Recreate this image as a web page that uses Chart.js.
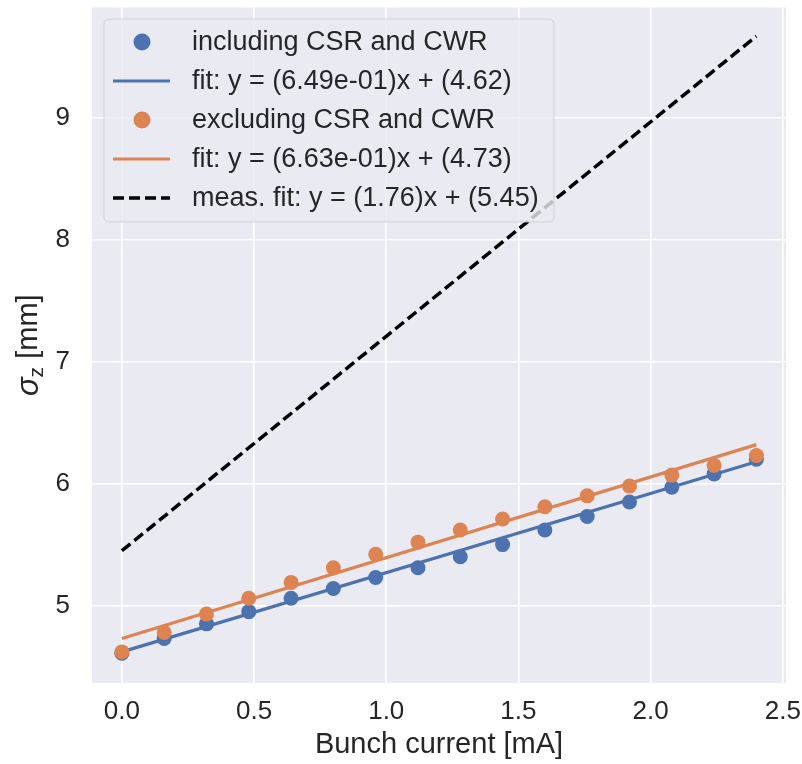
<!DOCTYPE html>
<html>
<head>
<meta charset="utf-8">
<script src="https://cdn.jsdelivr.net/npm/chart.js@4.4.1/dist/chart.umd.min.js"></script>
<style>
    body { margin: 0; background: #ffffff; }
    canvas { display: block; }
</style>
</head>
<body>
<canvas id="sigma-chart" width="802" height="764"></canvas>
<script>
// bunch current [mA]
const currents = [0, 0.16, 0.32, 0.48, 0.64, 0.8, 0.96, 1.12, 1.28, 1.44, 1.6, 1.76, 1.92, 2.08, 2.24, 2.4];
// sigma_z [mm]
const sigmaIncl = [4.61, 4.73, 4.85, 4.95, 5.06, 5.14, 5.23, 5.31, 5.40, 5.50, 5.62, 5.73, 5.85, 5.97, 6.08, 6.20];
const sigmaExcl = [4.62, 4.78, 4.93, 5.06, 5.19, 5.31, 5.42, 5.52, 5.62, 5.71, 5.81, 5.90, 5.98, 6.07, 6.15, 6.23];

// fit lines (end points)
const fitX = [0, 2.4];
const fitIncl = [4.62, 6.18];
const fitExcl = [4.73, 6.32];
const fitMeas = [5.45, 9.67];

const xTicks = [0, 0.5, 1.0, 1.5, 2.0, 2.5];
const yTicks = [5, 6, 7, 8, 9];

const BLUE = '#4c72b0';
const ORANGE = '#dd8452';
const TEXT = '#262626';
const FONT = "'Liberation Sans', Arial, sans-serif";

const toPoints = (xs, ys) => xs.map((x, i) => ({ x: x, y: ys[i] }));

// pas de marge auto autour des axes
const noPad = (scale) => {
    scale.paddingTop = 0;
    scale.paddingBottom = 0;
    scale.paddingLeft = 0;
    scale.paddingRight = 0;
};

// fond gris type seaborn
const bgPlugin = {
    id: 'bg',
    beforeDraw(chart) {
        const { ctx, chartArea } = chart;
        ctx.save();
        ctx.fillStyle = '#eaeaf2';
        ctx.fillRect(chartArea.left, chartArea.top, chartArea.right - chartArea.left, chartArea.bottom - chartArea.top);
        ctx.restore();
    }
};

// titre axe y avec indice
const yTitlePlugin = {
    id: 'yTitle',
    afterDraw(chart) {
        const ctx = chart.ctx;
        const cy = (chart.chartArea.top + chart.chartArea.bottom) / 2;
        ctx.save();
        ctx.translate(29, cy);
        ctx.rotate(-Math.PI / 2);
        ctx.fillStyle = TEXT;
        ctx.textBaseline = 'middle';
        const f1 = `italic 31px ${FONT}`;
        const f2 = `21px ${FONT}`;
        const f3 = `29px ${FONT}`;
        ctx.font = f1; const w1 = ctx.measureText('σ').width;
        ctx.font = f2; const w2 = ctx.measureText('z').width;
        ctx.font = f3; const w3 = ctx.measureText(' [mm]').width;
        let x = -(w1 + w2 + w3) / 2;
        ctx.font = f1; ctx.fillText('σ', x, 0); x += w1;
        ctx.font = f2; ctx.fillText('z', x, 8); x += w2;
        ctx.font = f3; ctx.fillText(' [mm]', x, 0);
        ctx.restore();
    }
};

// légende dans le cadre, en haut à gauche
const legendPlugin = {
    id: 'boxLegend',
    afterDraw(chart) {
        const ctx = chart.ctx;
        const left = 104, top = 19, width = 450, height = 203;
        ctx.save();
        ctx.beginPath();
        ctx.roundRect(left, top, width, height, 5);
        ctx.fillStyle = 'rgba(234, 234, 242, 0.8)';
        ctx.fill();
        ctx.strokeStyle = 'rgba(204, 204, 204, 0.8)';
        ctx.lineWidth = 1;
        ctx.stroke();

        ctx.font = `27px ${FONT}`;
        ctx.textBaseline = 'middle';
        chart.data.datasets.forEach((ds, i) => {
            const y = top + 23 + i * 39;
            if (ds.showLine) {
                ctx.beginPath();
                ctx.setLineDash(ds.borderDash || []);
                ctx.strokeStyle = ds.borderColor;
                ctx.lineWidth = ds.borderWidth;
                ctx.moveTo(113, y);
                ctx.lineTo(170, y);
                ctx.stroke();
                ctx.setLineDash([]);
            } else {
                ctx.beginPath();
                ctx.fillStyle = ds.backgroundColor;
                ctx.arc(142, y, 8.5, 0, Math.PI * 2);
                ctx.fill();
            }
            ctx.fillStyle = TEXT;
            ctx.fillText(ds.label, 192, y + 1);
        });
        ctx.restore();
    }
};

const ctx = document.getElementById('sigma-chart');

new Chart(ctx, {
    type: 'scatter',
    data: {
        datasets: [
            {
                label: 'including CSR and CWR',
                data: toPoints(currents, sigmaIncl),
                backgroundColor: BLUE,
                borderWidth: 0,
                pointRadius: 7.5,
                showLine: false,
                order: 4
            },
            {
                label: 'fit: y = (6.49e-01)x + (4.62)',
                data: toPoints(fitX, fitIncl),
                borderColor: BLUE,
                borderWidth: 3.2,
                pointRadius: 0,
                showLine: true,
                order: 3
            },
            {
                label: 'excluding CSR and CWR',
                data: toPoints(currents, sigmaExcl),
                backgroundColor: ORANGE,
                borderWidth: 0,
                pointRadius: 7.5,
                showLine: false,
                order: 2
            },
            {
                label: 'fit: y = (6.63e-01)x + (4.73)',
                data: toPoints(fitX, fitExcl),
                borderColor: ORANGE,
                borderWidth: 3.2,
                pointRadius: 0,
                showLine: true,
                order: 1
            },
            {
                label: 'meas. fit: y = (1.76)x + (5.45)',
                data: toPoints(fitX, fitMeas),
                borderColor: '#000000',
                borderWidth: 3.5,
                borderDash: [11, 5],
                pointRadius: 0,
                showLine: true,
                order: 0
            }
        ]
    },
    options: {
        responsive: false,
        animation: false,
        devicePixelRatio: 1,
        layout: { padding: { left: 0, top: 7, right: 16, bottom: 0 } },
        plugins: {
            legend: { display: false },
            tooltip: { enabled: false }
        },
        scales: {
            x: {
                type: 'linear',
                min: -0.113,
                max: 2.512,
                afterFit: (scale) => { scale.height = 81; noPad(scale); },
                afterBuildTicks: (scale) => { scale.ticks = xTicks.map(v => ({ value: v })); },
                border: { display: false },
                grid: { color: '#ffffff', lineWidth: 1.6, drawTicks: false },
                ticks: {
                    color: TEXT,
                    font: { family: FONT, size: 26 },
                    padding: 13,
                    callback: (v) => v.toFixed(1)
                },
                title: {
                    display: true,
                    text: 'Bunch current [mA]',
                    color: TEXT,
                    font: { family: FONT, size: 29 },
                    padding: { top: 0, bottom: 2 }
                }
            },
            y: {
                type: 'linear',
                min: 4.365,
                max: 9.905,
                afterFit: (scale) => { scale.width = 92; noPad(scale); },
                afterBuildTicks: (scale) => { scale.ticks = yTicks.map(v => ({ value: v })); },
                border: { display: false },
                grid: { color: '#ffffff', lineWidth: 1.6, drawTicks: false },
                ticks: {
                    color: TEXT,
                    font: { family: FONT, size: 26 },
                    padding: 22,
                    callback: (v) => String(v)
                }
            }
        }
    },
    plugins: [bgPlugin, yTitlePlugin, legendPlugin]
});
</script>
</body>
</html>
